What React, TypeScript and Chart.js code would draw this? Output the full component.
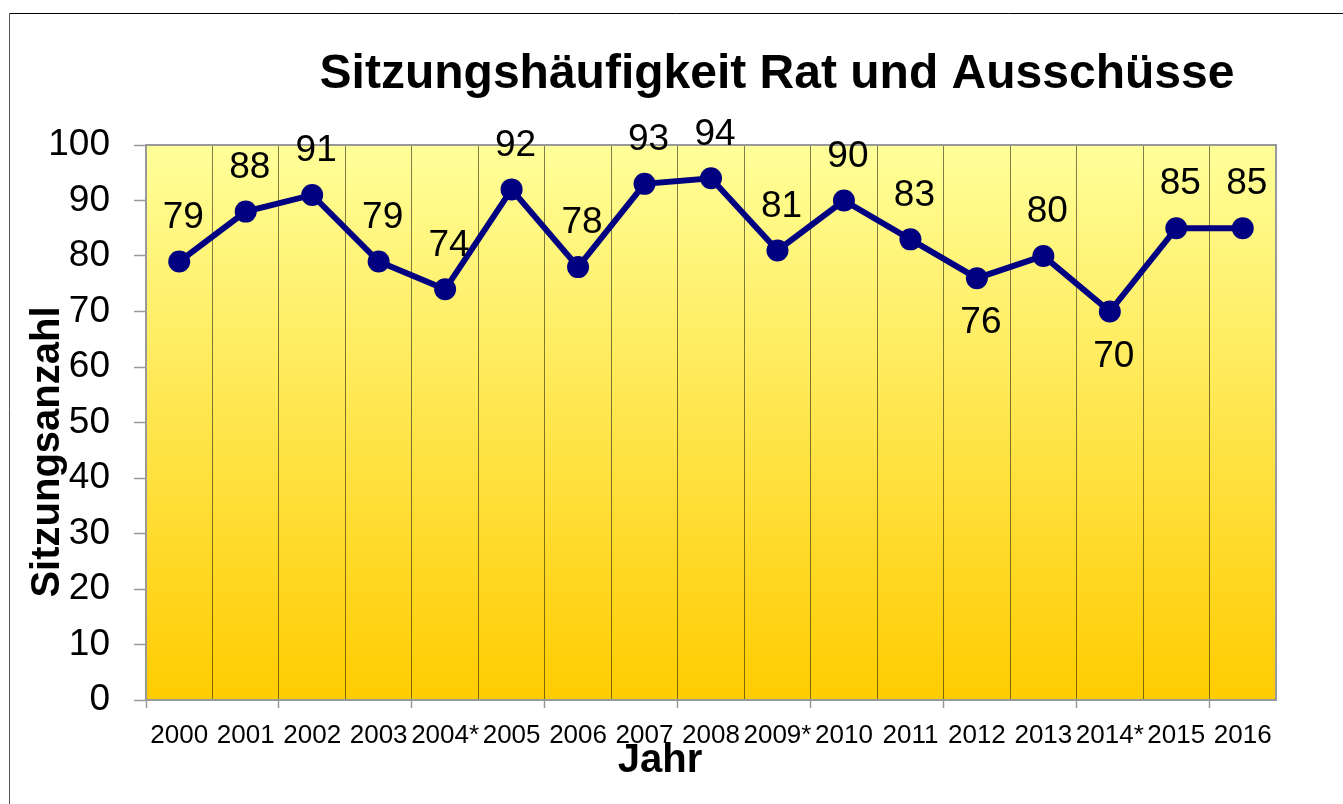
import React, { useEffect, useRef } from 'react';
import { Chart, registerables } from 'chart.js';

Chart.register(...registerables);

// ---------- data ----------
const TITLE = 'Sitzungshäufigkeit Rat und Ausschüsse';
const X_TITLE = 'Jahr';
const Y_TITLE = 'Sitzungsanzahl';
const YEARS = ['2000', '2001', '2002', '2003', '2004*', '2005', '2006', '2007', '2008', '2009*', '2010', '2011', '2012', '2013', '2014*', '2015', '2016'];
const MEETINGS = [79, 88, 91, 79, 74, 92, 78, 93, 94, 81, 90, 83, 76, 80, 70, 85, 85];
const LABEL_SIDE = ['above', 'above', 'above', 'above', 'above', 'above', 'above', 'above', 'above', 'above', 'above', 'above', 'below', 'above', 'below', 'above', 'above'];
const Y_MIN = 0;
const Y_MAX = 100;
const Y_STEP = 10;

// ---------- styles / layout ----------
const FONT = "'Liberation Sans', Arial, Helvetica, sans-serif";
const W = 1343;
const H = 804;

const framePlugin = {
  id: 'frameAndBackground',
  beforeDraw(chart: any) {
    const { ctx, chartArea: a } = chart;
    ctx.save();
    ctx.fillStyle = '#ffffff';
    ctx.fillRect(0, 0, chart.width, chart.height);
    // outer frame (top + left)
    ctx.strokeStyle = '#000000';
    ctx.lineWidth = 1;
    ctx.beginPath();
    ctx.moveTo(chart.width, 13.5);
    ctx.lineTo(9.5, 13.5);
    ctx.stroke();
    ctx.strokeStyle = '#555555';
    ctx.beginPath();
    ctx.moveTo(9.5, 13.5);
    ctx.lineTo(9.5, chart.height);
    ctx.stroke();
    // plot gradient
    const g = ctx.createLinearGradient(0, a.top, 0, a.bottom);
    g.addColorStop(0, '#FFFF99');
    g.addColorStop(1, '#FFCC00');
    ctx.fillStyle = g;
    ctx.fillRect(a.left, a.top, a.right - a.left, a.bottom - a.top);
    ctx.restore();
  },
  beforeDatasetsDraw(chart: any) {
    const { ctx, chartArea: a } = chart;
    ctx.save();
    ctx.strokeStyle = '#999999';
    ctx.lineWidth = 2;
    ctx.strokeRect(a.left, a.top, a.right - a.left, a.bottom - a.top);
    ctx.restore();
  },
};

const dataLabelPlugin = {
  id: 'valueLabels',
  afterDatasetsDraw(chart: any) {
    const { ctx } = chart;
    const meta = chart.getDatasetMeta(0);
    ctx.save();
    ctx.font = `37px ${FONT}`;
    ctx.fillStyle = '#000000';
    ctx.textAlign = 'center';
    ctx.textBaseline = 'middle';
    meta.data.forEach((pt: any, i: number) => {
      const below = LABEL_SIDE[i] === 'below';
      const y = below ? pt.y + 45 : pt.y - 44;
      ctx.fillText(String(MEETINGS[i]), pt.x + 4, y);
    });
    ctx.restore();
  },
};

const titlesPlugin = {
  id: 'chartTitles',
  afterDraw(chart: any) {
    const { ctx } = chart;
    ctx.save();
    ctx.fillStyle = '#000000';
    ctx.textBaseline = 'alphabetic';
    ctx.textAlign = 'center';
    ctx.font = `bold 48px ${FONT}`;
    ctx.fillText(TITLE, 777, 88);
    ctx.font = `bold 40px ${FONT}`;
    ctx.fillText(X_TITLE, 660, 772);
    ctx.translate(59, 452);
    ctx.rotate(-Math.PI / 2);
    ctx.fillText(Y_TITLE, 0, 0);
    ctx.restore();
  },
};

export default function App() {
  const ref = useRef<HTMLCanvasElement | null>(null);

  useEffect(() => {
    if (!ref.current) return;
    const chart = new Chart(ref.current, {
      type: 'line',
      data: {
        labels: YEARS,
        datasets: [
          {
            label: 'Sitzungen',
            data: MEETINGS,
            borderColor: '#000080',
            backgroundColor: '#000080',
            borderWidth: 6,
            pointRadius: 11,
            pointHoverRadius: 11,
            pointBackgroundColor: '#000080',
            pointBorderWidth: 0,
            tension: 0,
            fill: false,
          },
        ],
      },
      options: {
        responsive: false,
        animation: false,
        events: [],
        layout: { padding: { left: 9, right: 67, top: 145, bottom: 0 } },
        plugins: {
          legend: { display: false },
          title: { display: false },
          tooltip: { enabled: false },
        },
        scales: {
          x: {
            type: 'category',
            offset: true,
            afterFit(scale: any) {
              scale.height = 104;
            },
            grid: {
              offset: true,
              display: true,
              drawOnChartArea: true,
              drawTicks: true,
              tickLength: 8,
              color: 'rgba(0,0,0,0.5)',
              lineWidth: 1,
              tickColor: (c: any) => (typeof c.index === 'number' && c.index % 2 === 0 ? '#999999' : 'rgba(0,0,0,0)'),
              tickWidth: 1.5,
            },
            border: { display: true, color: '#999999', width: 2 },
            ticks: {
              autoSkip: false,
              maxRotation: 0,
              minRotation: 0,
              padding: 12,
              color: '#000000',
              font: { family: FONT, size: 26 },
            },
          },
          y: {
            min: Y_MIN,
            max: Y_MAX,
            afterFit(scale: any) {
              scale.width = 137;
            },
            grid: {
              drawOnChartArea: false,
              drawTicks: true,
              tickLength: 12,
              tickColor: '#999999',
              tickWidth: 1.5,
            },
            border: { display: true, color: '#999999', width: 2 },
            ticks: {
              stepSize: Y_STEP,
              padding: 24,
              color: '#000000',
              font: { family: FONT, size: 37 },
            },
          },
        },
      },
      plugins: [framePlugin, dataLabelPlugin, titlesPlugin],
    });
    return () => chart.destroy();
  }, []);

  return (
    <div style={{ position: 'fixed', left: 0, top: 0, width: W, height: H, background: '#fff' }}>
      <canvas ref={ref} width={W} height={H} style={{ display: 'block', width: W, height: H }} />
    </div>
  );
}
